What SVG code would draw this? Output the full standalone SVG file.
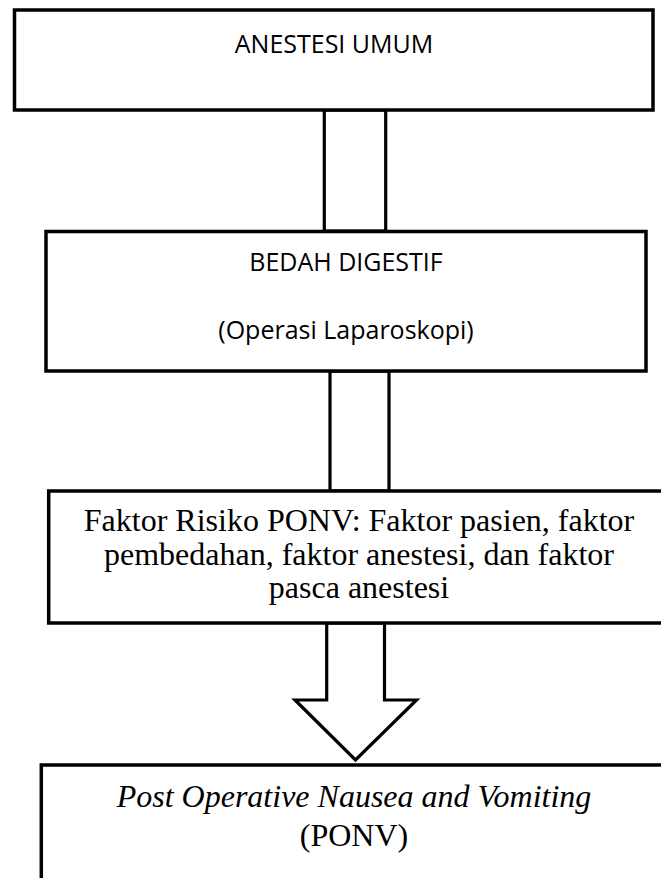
<svg xmlns="http://www.w3.org/2000/svg" width="661" height="878" viewBox="0 0 661 878">
<style>
.box{fill:#fff;stroke:#000;stroke-width:3.5}
.con{fill:#fff;stroke:#000;stroke-width:3.2;stroke-linejoin:miter}
.sans{font-family:"Open Sans","Liberation Sans",sans-serif;font-size:25px;fill:#000;text-anchor:middle}
.serif{font-family:"Liberation Serif","Times New Roman",serif;font-size:32px;fill:#000;text-anchor:middle}
</style>
<rect width="661" height="878" fill="#fff"/>
<g id="connectors">
<rect class="con" x="324.3" y="110" width="61.4" height="121"/>
<rect class="con" x="330" y="371" width="59" height="120"/>
<polygon class="con" points="326.7,623 384.5,623 384.5,700 416.5,700 355.5,760 295,700 326.7,700"/>
</g>
<g id="n1">
<rect class="box" x="14.5" y="10" width="638.5" height="100"/>
<text class="sans" x="334" y="53">ANESTESI UMUM</text>
</g>
<g id="n2">
<rect class="box" x="46" y="231.5" width="600" height="139.5"/>
<text class="sans" x="346" y="271">BEDAH DIGESTIF</text>
<text class="sans" x="346" y="339">(Operasi Laparoskopi)</text>
</g>
<g id="n3">
<rect class="box" x="48.7" y="491" width="620" height="132"/>
<text class="serif" x="359" y="531">Faktor Risiko PONV: Faktor pasien, faktor</text>
<text class="serif" x="359" y="564.5">pembedahan, faktor anestesi, dan faktor</text>
<text class="serif" x="359" y="598">pasca anestesi</text>
</g>
<g id="n4">
<rect class="box" x="41.3" y="765" width="626" height="140"/>
<text class="serif" x="354" y="807"><tspan font-style="italic">Post Operative Nausea and Vomiting</tspan></text>
<text class="serif" x="354" y="846">(PONV)</text>
</g>
</svg>
